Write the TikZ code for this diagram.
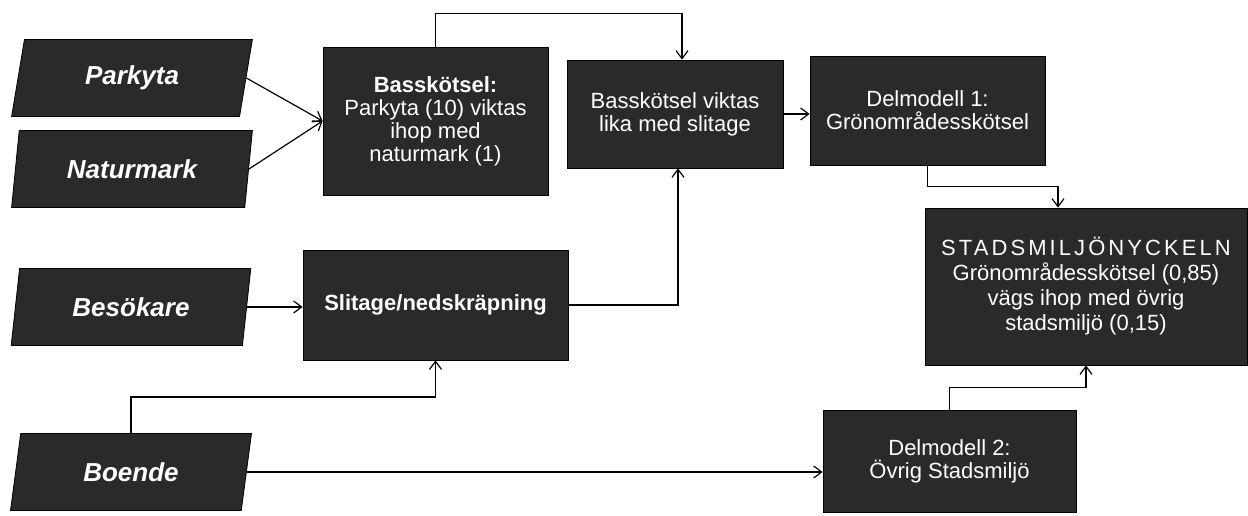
\documentclass[tikz,border=0pt]{standalone}
\usepackage{fontspec}
\setmainfont{Liberation Sans}
\usetikzlibrary{shapes.geometric,arrows.meta}

\definecolor{boxfill}{RGB}{42,42,42}
\tikzset{
  inbox/.style={trapezium, trapezium left angle=77, trapezium right angle=103, trapezium stretches=true,
    draw=black, fill=boxfill, text=white, font=\fontsize{13}{15}\selectfont\bfseries\itshape,
    minimum width=120.5pt, minimum height=38.5pt, inner sep=0pt},
  modbox/.style={rectangle, draw=black, fill=boxfill, text=white, align=center,
    font=\fontsize{11}{11.5}\selectfont, inner sep=1pt},
  flow/.style={-{Straight Barb[length=4pt,width=6pt]}, line width=0.6pt},
}

\begin{document}
\begin{tikzpicture}[x=0.5pt,y=0.5pt,yscale=-1,xscale=1]
            \useasboundingbox (0,0) rectangle (1248,515);

            %Shape: Parallelogram [inputs]
            \node[inbox] (parkyta) at (132,78) {Parkyta};
            \node[inbox] (naturmark) at (132,169) {Naturmark};
            \node[inbox] (besokare) at (131,307) {Besökare};
            \node[inbox] (boende) at (131,472) {Boende};

            %Shape: Rectangle [steps]
            \node[modbox, minimum width=112.5pt, minimum height=74pt] (bass) at (435.5,121)
                {\textbf{Basskötsel:}\\Parkyta (10) viktas\\ihop med\\naturmark (1)};
            \node[modbox, minimum width=132.5pt, minimum height=55pt] (slit) at (435.5,305)
                {\textbf{Slitage/nedskräpning}};
            \node[modbox, minimum width=108pt, minimum height=54pt] (viktas) at (675,114)
                {Basskötsel viktas\\lika med slitage};
            \node[modbox, minimum width=117.5pt, minimum height=54.5pt] (del1) at (927.5,110.5)
                {Delmodell 1:\\Grönområdesskötsel};
            \node[modbox, minimum width=126.5pt, minimum height=51pt] (del2) at (949.5,461)
                {Delmodell 2:\\Övrig Stadsmiljö};
            \node[modbox, minimum width=161pt, minimum height=78.5pt, font=\fontsize{11}{12.5}\selectfont] (stads) at (1086,286.5)
                {{\addfontfeatures{LetterSpace=14}STADSMILJÖNYCKELN}\\Grönområdesskötsel (0,85)\\vägs ihop med övrig\\stadsmiljö (0,15)};

            % Connectors
            \draw[flow] (parkyta.east) -- (bass.west);
            \draw[flow] (naturmark.east) -- (bass.west);
            \draw[flow] (besokare.east) -- (besokare.east -| slit.west);
            \draw[flow] (boende.north) -- ++(0,-36) -| (slit.south);
            \draw[flow] (boende.east) -- (boende.east -| del2.west);
            \draw[flow] (bass.north) -- ++(0,-33) -| ([xshift=3.5pt]viktas.north);
            \draw[flow] (slit.east) -| ([xshift=1.5pt]viktas.south);
            \draw[flow] (viktas.east) -- (viktas.east -| del1.west);
            \draw[flow] (del1.south) -- ++(0,21) -| ([xshift=-14pt]stads.north);
            \draw[flow] (del2.north) -- ++(0,-22) -| (stads.south);

\end{tikzpicture}
\end{document}
